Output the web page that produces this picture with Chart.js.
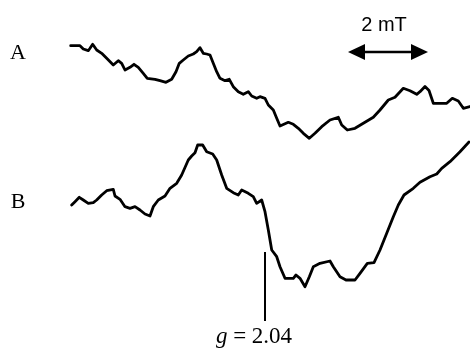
<!DOCTYPE html>
<html>
<head>
<meta charset="utf-8">
<title>EPR spectra A and B</title>
<script src="https://cdn.jsdelivr.net/npm/chart.js@4.4.1/dist/chart.umd.min.js"></script>
<style>
  html, body { margin: 0; padding: 0; background: #fff; }
  #wrap { width: 470px; height: 349px; position: relative; }
</style>
</head>
<body>
<div id="wrap"><canvas id="epr"></canvas></div>
<script>
// Magnetic field offset (mT) relative to the g = 2.04 position, and signal (arb. units, offset per trace)
const fieldA = [-4.858, -4.625, -4.543, -4.418, -4.375, -4.308, -4.208, -4.083, -3.958, -3.793,
  -3.668, -3.583, -3.5, -3.375, -3.275, -3.168, -3.043, -2.943, -2.75, -2.625,
  -2.475, -2.333, -2.225, -2.143, -2.043, -1.918, -1.793, -1.708, -1.625, -1.543,
  -1.458, -1.375, -1.293, -1.208, -1.125, -1.0, -0.893, -0.793, -0.668, -0.543,
  -0.418, -0.333, -0.208, -0.125, 0, 0.083, 0.208, 0.293, 0.375, 0.583,
  0.708, 0.833, 0.958, 1.108, 1.25, 1.418, 1.625, 1.833, 1.918, 2.058,
  2.25, 2.458, 2.708, 2.875, 3.083, 3.25, 3.458, 3.625, 3.793, 3.875,
  4.0, 4.1, 4.208, 4.543, 4.683, 4.833, 4.958, 5.125];
const signalA = [30.33, 30.33, 30.0, 29.83, 30.07, 30.47, 29.9, 29.57, 29.07, 28.4,
  28.83, 28.57, 27.9, 28.17, 28.47, 28.17, 27.57, 27.07, 26.97, 26.83,
  26.67, 26.97, 27.73, 28.57, 28.9, 29.3, 29.5, 29.73, 30.13, 29.57,
  29.5, 29.4, 28.57, 27.73, 27.07, 26.83, 26.97, 26.23, 25.73, 25.47,
  25.73, 25.3, 25.07, 25.23, 25.07, 24.4, 23.9, 23.07, 22.3, 22.67,
  22.47, 22.07, 21.57, 21.07, 21.57, 22.23, 22.9, 23.17, 22.4, 21.9,
  22.07, 22.57, 23.17, 23.9, 24.9, 25.17, 26.07, 25.83, 25.47, 25.73,
  26.25, 25.85, 24.57, 24.57, 25.07, 24.8, 24.07, 24.25];

const fieldB = [-4.833, -4.75, -4.643, -4.543, -4.418, -4.293, -4.208, -4.083, -3.958, -3.793,
  -3.75, -3.625, -3.5, -3.375, -3.25, -3.125, -3.0, -2.875, -2.793, -2.668,
  -2.5, -2.375, -2.208, -2.083, -1.918, -1.833, -1.75, -1.683, -1.558, -1.458,
  -1.308, -1.208, -1.083, -0.958, -0.793, -0.668, -0.583, -0.418, -0.293, -0.208,
  -0.083, 0, 0.083, 0.168, 0.293, 0.375, 0.5, 0.708, 0.775, 0.875,
  1.0, 1.108, 1.208, 1.375, 1.625, 1.708, 1.875, 2.025, 2.25, 2.375,
  2.558, 2.725, 2.875, 3.043, 3.208, 3.333, 3.475, 3.708, 3.875, 4.125,
  4.293, 4.418, 4.625, 4.875, 5.1];
const signalB = [14.4, 14.73, 15.17, 14.9, 14.57, 14.63, 14.9, 15.4, 15.83, 15.97,
  15.3, 14.97, 14.23, 14.07, 14.23, 13.9, 13.5, 13.3, 14.23, 14.9,
  15.3, 16.07, 16.57, 17.4, 18.9, 19.3, 19.63, 20.4, 20.4, 19.73,
  19.5, 18.9, 17.4, 16.07, 15.63, 15.4, 15.9, 15.57, 15.23, 14.57,
  14.9, 13.73, 11.9, 9.9, 9.23, 8.23, 7.07, 7.07, 7.4, 7.07,
  6.23, 7.23, 8.23, 8.57, 8.8, 8.23, 7.23, 6.9, 6.9, 7.57,
  8.57, 8.63, 9.9, 11.57, 13.23, 14.4, 15.4, 16.07, 16.67, 17.23,
  17.5, 18.07, 18.73, 19.73, 20.7];

const traceLabels = ['A', 'B'];
const scaleBarMT = 2;          // length of the field scale bar (mT)
const scaleBarStart = 2.075;   // left end of the scale bar (mT)
const gMarkerField = 0;        // field position of g = 2.04
const gLabel = ['g', ' = 2.04'];

function toPoints(xs, ys) {
  return xs.map((x, i) => ({ x: x, y: ys[i] }));
}

const annotations = {
  id: 'eprAnnotations',
  afterDatasetsDraw(chart) {
    const ctx = chart.ctx;
    const xs = chart.scales.x;
    const ys = chart.scales.y;
    ctx.save();
    ctx.fillStyle = '#000';
    ctx.strokeStyle = '#000';

    // trace letters
    ctx.font = '22px "Liberation Serif", "Times New Roman", serif';
    ctx.textAlign = 'center';
    ctx.textBaseline = 'alphabetic';
    ctx.fillText(traceLabels[0], 18, 59);
    ctx.fillText(traceLabels[1], 18, 208);

    // field scale bar with arrowheads
    const x0 = xs.getPixelForValue(scaleBarStart);
    const x1 = xs.getPixelForValue(scaleBarStart + scaleBarMT);
    const yb = ys.getPixelForValue(29.7);
    const head = 17, half = 8;
    ctx.lineWidth = 2.5;
    ctx.beginPath();
    ctx.moveTo(x0 + head - 2, yb);
    ctx.lineTo(x1 - head + 2, yb);
    ctx.stroke();
    ctx.beginPath();
    ctx.moveTo(x0, yb);
    ctx.lineTo(x0 + head, yb - half);
    ctx.lineTo(x0 + head, yb + half);
    ctx.closePath();
    ctx.fill();
    ctx.beginPath();
    ctx.moveTo(x1, yb);
    ctx.lineTo(x1 - head, yb - half);
    ctx.lineTo(x1 - head, yb + half);
    ctx.closePath();
    ctx.fill();

    ctx.font = '20px "Liberation Sans", Arial, sans-serif';
    ctx.textAlign = 'center';
    ctx.fillText(scaleBarMT + ' mT', (x0 + x1) / 2 - 4, 31);

    // g-value marker
    const gx = xs.getPixelForValue(gMarkerField);
    ctx.lineWidth = 2;
    ctx.beginPath();
    ctx.moveTo(gx, ys.getPixelForValue(9.7));
    ctx.lineTo(gx, ys.getPixelForValue(2.8));
    ctx.stroke();

    ctx.textAlign = 'left';
    const serif = '"Liberation Serif", "Times New Roman", serif';
    ctx.font = 'italic 23px ' + serif;
    const wg = ctx.measureText(gLabel[0]).width;
    ctx.font = '23px ' + serif;
    const wr = ctx.measureText(gLabel[1]).width;
    const left = gx - 11 - (wg + wr) / 2;
    ctx.font = 'italic 23px ' + serif;
    ctx.fillText(gLabel[0], left, 343);
    ctx.font = '23px ' + serif;
    ctx.fillText(gLabel[1], left + wg, 343);
    ctx.restore();
  }
};

new Chart(document.getElementById('epr'), {
  type: 'scatter',
  data: {
    datasets: [
      { label: traceLabels[0], data: toPoints(fieldA, signalA) },
      { label: traceLabels[1], data: toPoints(fieldB, signalB) }
    ].map(d => Object.assign(d, {
      showLine: true,
      borderColor: '#000',
      backgroundColor: '#000',
      borderWidth: 2.8,
      pointRadius: 0,
      tension: 0,
      borderJoinStyle: 'round',
      borderCapStyle: 'round'
    }))
  },
  options: {
    responsive: true,
    maintainAspectRatio: false,
    animation: false,
    layout: { padding: 0 },
    plugins: { legend: { display: false }, tooltip: { enabled: false } },
    scales: {
      x: { type: 'linear', min: -6.625, max: 5.125, display: false },
      y: { type: 'linear', min: 0, max: 34.9, display: false }
    }
  },
  plugins: [annotations]
});
</script>
</body>
</html>
